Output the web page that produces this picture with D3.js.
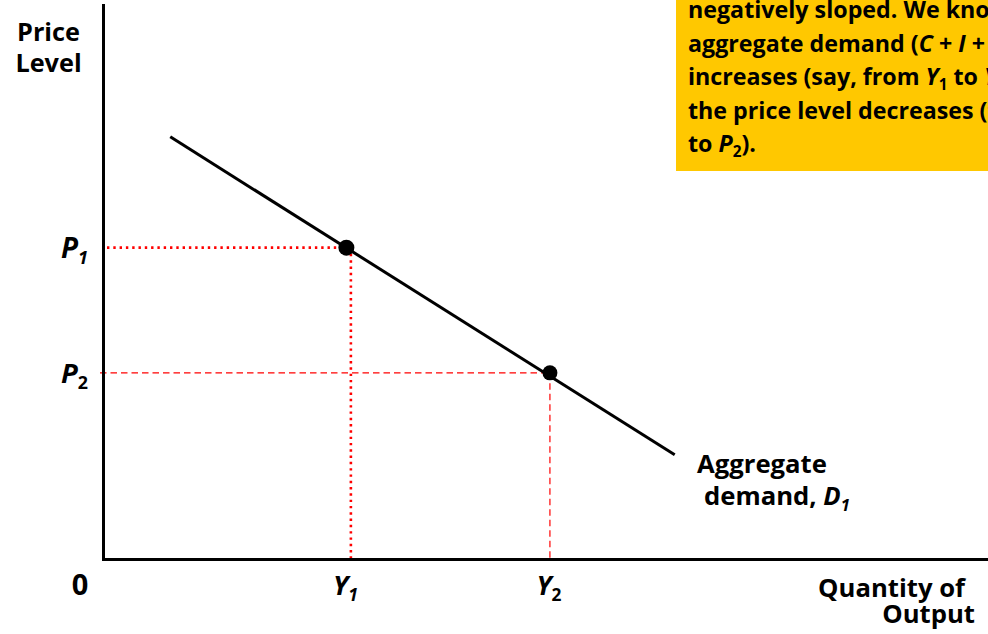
<!DOCTYPE html>
<html>
<head>
<meta charset="utf-8">
<script src="https://cdn.jsdelivr.net/npm/d3@7"></script>
<style>
  html, body { margin: 0; padding: 0; background: #fff; overflow: hidden; }
  svg { display: block; }
  text { font-family: "Open Sans", Lato, sans-serif; font-weight: 700; fill: #000; }
</style>
</head>
<body>
<svg id="chart" width="988" height="634"></svg>
<script>
// Aggregate demand curve (quantity of output, price level) endpoints
const demandQ = [0.76, 6.46];
const demandP = [7.62, 1.88];

// Two equilibrium points on the curve
const outputLevels = [2.75, 5.05];   // Y1, Y2
const priceLevels  = [5.62, 3.36];   // P1, P2
const outputLabels = ["Y", "Y"];
const priceLabels  = ["P", "P"];
const subscripts   = ["1", "2"];

// Explanatory note lines: [text, style]
const noteLines = [
  [["negatively sloped. We know that as", ""]],
  [["aggregate demand (", ""], ["C", "i"], [" + ", ""], ["I", "i"], [" + ", ""], ["G", "i"], [" + ", ""], ["X", "i"], [")", ""]],
  [["increases (say, from ", ""], ["Y", "i"], ["1", "sub"], [" to ", ""], ["Y", "i"], ["2", "sub"], ["),", ""]],
  [["the price level decreases (from ", ""], ["P", "i"], ["1", "sub"]],
  [["to ", ""], ["P", "i"], ["2", "sub"], [").", ""]]
];

const svg = d3.select("#chart");
const W = 988;

const x = d3.scaleLinear().domain([0, 10]).range([103, 988]);
const y = d3.scaleLinear().domain([0, 10]).range([559, 5]);

// Scale a text's font size so it spans the given width
function fitWidth(sel, width) {
  const w = sel.node().getComputedTextLength();
  const fs = parseFloat(sel.style("font-size"));
  const nfs = fs * width / w;
  sel.style("font-size", nfs + "px");
  return nfs;
}
function sizeFor(str, width) {
  const t = svg.append("text").style("font-size", "100px").text(str);
  const w = t.node().getComputedTextLength();
  t.remove();
  return 100 * width / w;
}

// Note box
svg.append("rect")
  .attr("x", 676).attr("y", -5)
  .attr("width", W - 676 + 10).attr("height", 176)
  .attr("fill", "#ffc800");

const noteSize = sizeFor("increases (say, from Y1 to", 296);
const note = svg.append("text")
  .attr("x", 688)
  .style("font-size", noteSize + "px");
noteLines.forEach((parts, i) => {
  const base = 18 + i * 33.5;
  parts.forEach(([t, kind], j) => {
    const ts = note.append("tspan").text(t);
    if (j === 0) ts.attr("x", 688);
    if (kind === "i") ts.style("font-style", "italic");
    if (kind === "sub") {
      ts.attr("y", base + 5).style("font-size", "0.66em");
    } else {
      ts.attr("y", base);
    }
  });
});

// Guide lines from the axes to each point
const red = "#ff0000";
// P1 / Y1: dotted
svg.append("line")
  .attr("x1", x(0) + 4).attr("x2", x(outputLevels[0]))
  .attr("y1", y(priceLevels[0])).attr("y2", y(priceLevels[0]))
  .attr("stroke", red).attr("stroke-width", 2.6)
  .attr("stroke-dasharray", "2.4,3.9");
svg.append("line")
  .attr("x1", x(outputLevels[0]) + 4.5).attr("x2", x(outputLevels[0]) + 4.5)
  .attr("y1", y(priceLevels[0])).attr("y2", y(0))
  .attr("stroke", red).attr("stroke-width", 2.6)
  .attr("stroke-dasharray", "2.4,3.9");
// P2 / Y2: dashed
svg.append("line")
  .attr("x1", x(0) - 3).attr("x2", x(outputLevels[1]))
  .attr("y1", y(priceLevels[1])).attr("y2", y(priceLevels[1]))
  .attr("stroke", red).attr("stroke-width", 1.2)
  .attr("stroke-dasharray", "6.5,4");
svg.append("line")
  .attr("x1", x(outputLevels[1])).attr("x2", x(outputLevels[1]))
  .attr("y1", y(priceLevels[1])).attr("y2", y(0))
  .attr("stroke", red).attr("stroke-width", 1.2)
  .attr("stroke-dasharray", "6.5,4");

// Axes
const xAxis = d3.axisBottom(x).tickValues([]).tickSizeOuter(0);
const yAxis = d3.axisLeft(y).tickValues([]).tickSizeOuter(0);
svg.append("g").attr("transform", `translate(0,${y(0)})`).call(xAxis)
  .select(".domain").attr("stroke", "#000").attr("stroke-width", 3).attr("stroke-linecap", "square");
svg.append("g").attr("transform", `translate(${x(0)},0)`).call(yAxis)
  .select(".domain").attr("stroke", "#000").attr("stroke-width", 3).attr("stroke-linecap", "square");

// Demand curve
const demand = demandQ.map((q, i) => ({ q, p: demandP[i] }));
svg.append("path")
  .datum(demand)
  .attr("fill", "none")
  .attr("stroke", "#000")
  .attr("stroke-width", 3)
  .attr("d", d3.line().x(d => x(d.q)).y(d => y(d.p)));

// Points
svg.selectAll("circle.pt")
  .data(outputLevels.map((q, i) => ({ q, p: priceLevels[i] })))
  .join("circle")
  .attr("class", "pt")
  .attr("cx", d => x(d.q)).attr("cy", d => y(d.p))
  .attr("r", (d, i) => i === 0 ? 8 : 7.5)
  .attr("fill", "#000");

// Price labels on the vertical axis
priceLabels.forEach((lab, i) => {
  const t = svg.append("text")
    .attr("x", x(0) - 15).attr("y", y(priceLevels[i]) + 10)
    .attr("text-anchor", "end")
    .style("font-size", "26px");
  t.append("tspan").text(lab).style("font-style", "italic");
  t.append("tspan").text(subscripts[i]).attr("dy", 6)
    .style("font-size", "0.65em")
    .style("font-style", i === 0 ? "italic" : "normal");
  fitWidth(t, 27);
});

// Output labels on the horizontal axis
outputLabels.forEach((lab, i) => {
  const t = svg.append("text")
    .attr("x", x(outputLevels[i]) - 1).attr("y", 595)
    .attr("text-anchor", "middle")
    .style("font-size", "26px");
  t.append("tspan").text(lab).style("font-style", "italic");
  t.append("tspan").text(subscripts[i]).attr("dy", 6)
    .style("font-size", "0.65em")
    .style("font-style", i === 0 ? "italic" : "normal");
  fitWidth(t, 25);
});

// Origin
svg.append("text").attr("x", 80).attr("y", 595)
  .attr("text-anchor", "middle").style("font-size", "29px").text("0");

// Axis titles
const price = svg.append("text").attr("x", 48.5).attr("y", 41).attr("text-anchor", "middle")
  .style("font-size", "25px").text("Price");
const titleSize = fitWidth(price, 63);
svg.append("text").attr("x", 48.5).attr("y", 72).attr("text-anchor", "middle")
  .style("font-size", titleSize + "px").text("Level");

const qty = svg.append("text").attr("x", 965).attr("y", 597).attr("text-anchor", "end")
  .style("font-size", "25px").text("Quantity of");
const qSize = fitWidth(qty, 147);
svg.append("text").attr("x", 975).attr("y", 623).attr("text-anchor", "end")
  .style("font-size", qSize + "px").text("Output");

// Curve label
const agg = svg.append("text").attr("x", 697).attr("y", 473)
  .style("font-size", "25px").text("Aggregate");
const aggSize = fitWidth(agg, 130);
const dl = svg.append("text").attr("x", 704).attr("y", 505)
  .style("font-size", aggSize + "px");
dl.append("tspan").text("demand, ");
dl.append("tspan").text("D").style("font-style", "italic");
dl.append("tspan").text("1").attr("dy", 6).style("font-size", "0.65em").style("font-style", "italic");
</script>
</body>
</html>
